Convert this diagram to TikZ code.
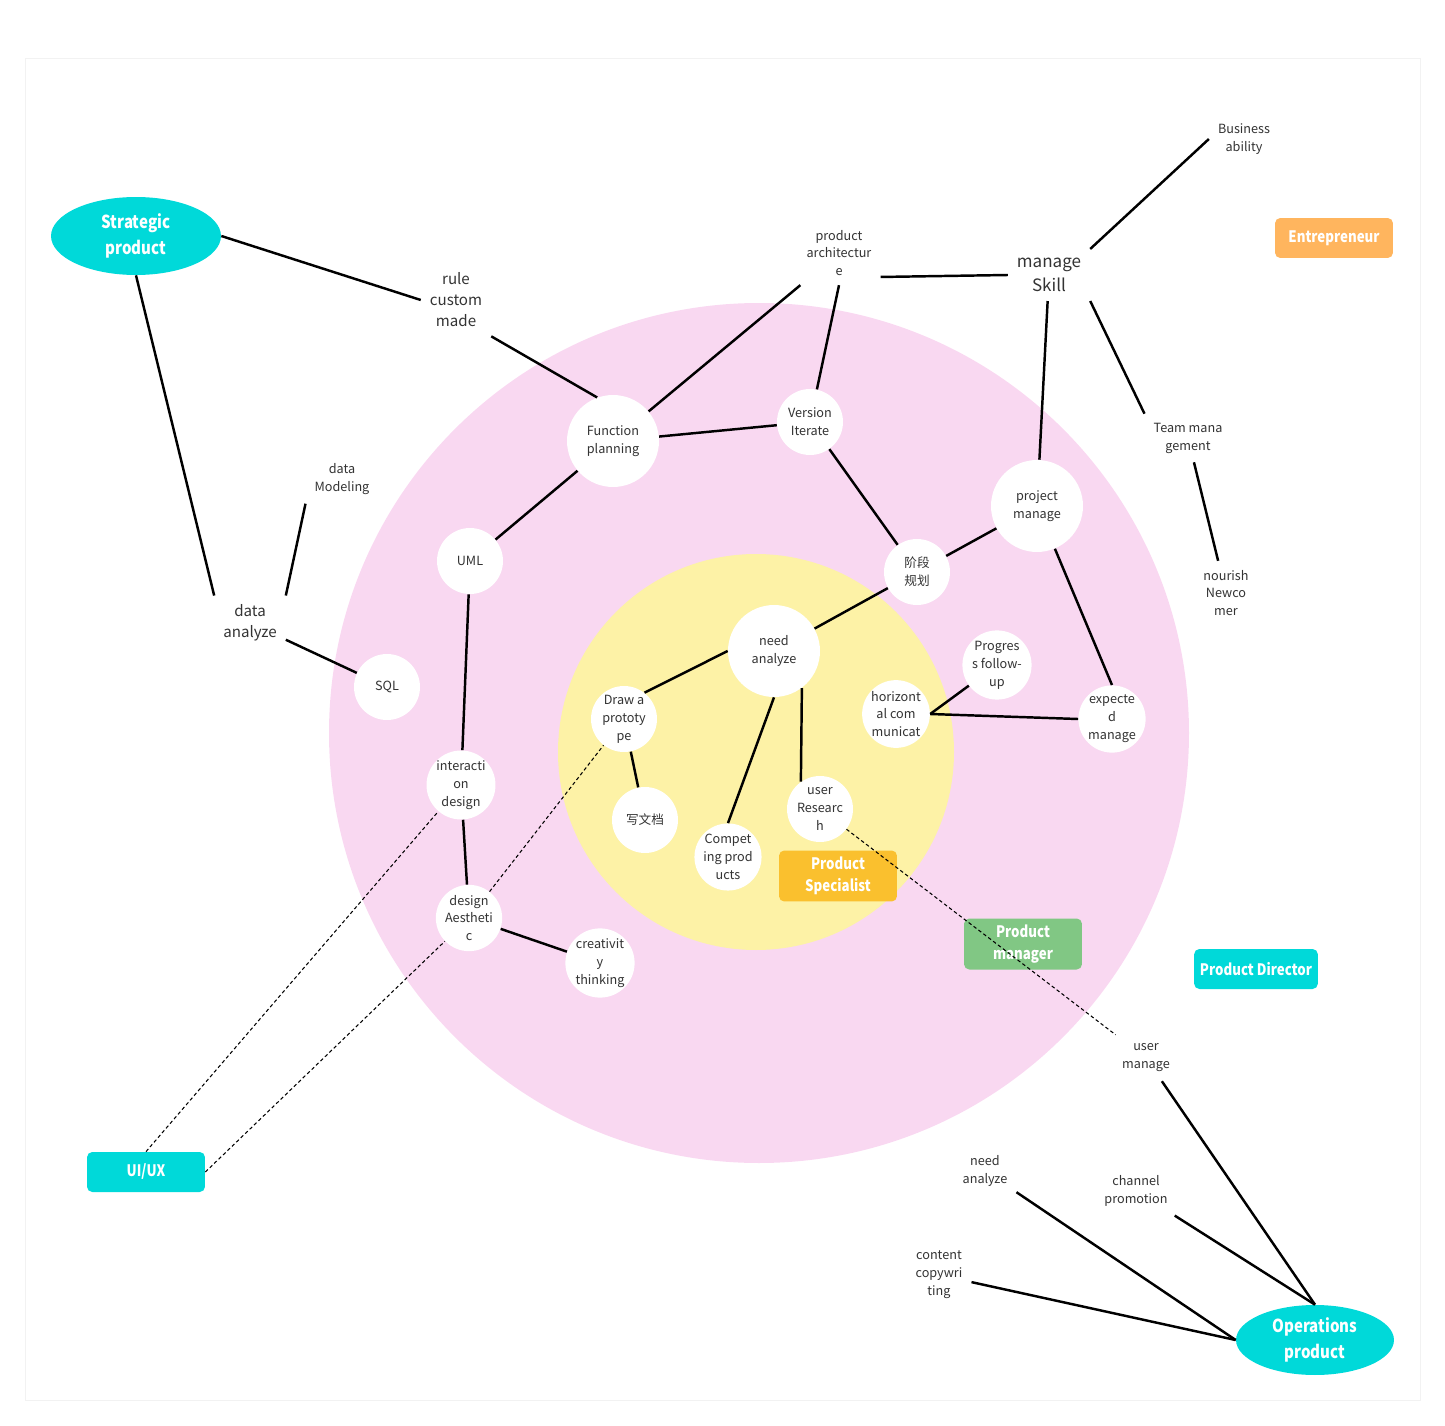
\documentclass[tikz,border=0pt]{standalone}
\usepackage{fontspec}
\setmainfont{Noto Sans CJK SC}
\newfontfamily\rolefont{Noto Sans CJK SC}[FakeStretch=0.84]
\usetikzlibrary{shapes.geometric}
\definecolor{ringpink}{RGB}{249,216,241}
\definecolor{coreyellow}{RGB}{253,242,166}
\definecolor{rcyan}{RGB}{0,217,217}
\definecolor{rorange}{RGB}{255,181,94}
\definecolor{rgold}{RGB}{250,192,46}
\definecolor{rgreen}{RGB}{129,199,132}
\definecolor{txtgray}{RGB}{51,51,51}

\begin{document}
\begin{tikzpicture}[
    x=0.02cm, y=-0.02cm,
    skill/.style={
      circle, fill=white, inner sep=0pt,
      minimum size=1.32cm,
      align=center, text=txtgray,
      font=\fontsize{7.2}{10.2}\selectfont
    },
    bigskill/.style={skill, minimum size=1.84cm},
    tag/.style={
      align=center, text=txtgray, inner sep=5pt,
      font=\fontsize{7.2}{10.2}\selectfont
    },
    midtag/.style={tag, font=\fontsize{8.6}{12}\selectfont},
    toptag/.style={tag, font=\fontsize{9.7}{13.7}\selectfont},
    role/.style={
      rectangle, rounded corners=3pt,
      fill=#1, text=white,
      minimum width=2.36cm, minimum height=0.8cm,
      align=center, font=\rolefont\bfseries\fontsize{9}{12.5}\selectfont
    },
    core/.style={
      ellipse, fill=rcyan, text=white, inner sep=0pt,
      minimum width=3.4cm, minimum height=1.56cm,
      align=center, font=\rolefont\bfseries\fontsize{10.2}{14.5}\selectfont
    },
    link/.style={line width=1.4pt, black},
    dlink/.style={line width=0.6pt, black, dash pattern=on 2pt off 1.5pt}
  ]

  \useasboundingbox (0,0) rectangle (1445,1426);
  \draw[black!5] (25,58) rectangle (1420,1400);

  % ---- Rings ----
  \fill[ringpink]   (759,733) circle[radius=430];
  \fill[coreyellow] (756,752) circle[radius=198];

  % ---- Role labels ----
  \node[core] (STRAT) at (136,236)  {Strategic\\product};
  \node[core, minimum width=3.16cm, minimum height=1.4cm] (OPS) at (1315,1340) {Operations\\product};
  \node[role=rorange] (ENTRE) at (1334,238) {Entrepreneur};
  \node[role=rgold,  minimum height=1.02cm] (SPEC) at (838,876)  {Product\\Specialist};
  \node[role=rgreen, minimum height=1.02cm] (PMAN) at (1023,944) {Product\\manager};
  \node[role=rcyan]  (DIREC) at (1256,969) {Product Director};
  \node[role=rcyan]  (UIUX)  at (146,1172) {UI/UX};

  % ---- Outer text labels ----
  \node[midtag] (RULE)  at (456,300)  {rule\\custom\\made};
  \node[tag]    (PARCH) at (839,253)  {product\\architectur\\e};
  \node[toptag] (MSKILL) at (1049,275) {manage\\Skill};
  \node[tag]    (BUSI)  at (1244,139) {Business\\ability};
  \node[tag]    (TEAM)  at (1188,438) {Team mana\\gement};
  \node[tag]    (NOUR)  at (1226,593) {nourish\\Newco\\mer};
  \node[tag]    (DMOD)  at (342,479)  {data\\Modeling};
  \node[midtag] (DANA)  at (250,623)  {data\\analyze};
  \node[tag]    (UMAN)  at (1146,1058) {user\\manage};
  \node[tag]    (NANA)  at (985,1171) {need\\analyze};
  \node[tag]    (CHAN)  at (1136,1191) {channel\\promotion};
  \node[tag]    (COPY)  at (939,1275) {content\\copywri\\ting};

  % ---- Skill circles ----
  \node[bigskill] (FUNC)  at (613,441)  {Function\\planning};
  \node[skill]    (VERS)  at (810,422)  {Version\\Iterate};
  \node[skill]    (UML)   at (470,561)  {UML};
  \node[bigskill] (PROJ)  at (1037,506) {project\\manage};
  \node[skill]    (STAGE) at (917,572)  {阶段\\规划};
  \node[bigskill] (NEED)  at (774,651)  {need\\analyze};
  \node[skill]    (PROG)  at (997,665)  {Progres\\s follow-\\up};
  \node[skill]    (HORI)  at (896,714)  {horizont\\al com\\municat};
  \node[skill]    (EXPE)  at (1112,719) {expecte\\d\\manage};
  \node[skill]    (PROTO) at (624,719)  {Draw a\\prototy\\pe};
  \node[skill]    (DOCS)  at (645,820)  {写文档};
  \node[skill]    (URES)  at (820,809)  {user\\Researc\\h};
  \node[skill]    (COMP)  at (728,857)  {Compet\\ing prod\\ucts};
  \node[skill]    (SQL)   at (387,687)  {SQL};
  \node[skill]    (INTER) at (461,785)  {interacti\\on\\design};
  \node[skill]    (DAES)  at (469,918)  {design\\Aestheti\\c};
  \node[skill]    (CREA)  at (600,963)  {creativit\\y\\thinking};

  % ---- Solid connectors ----
  \draw[link] (STRAT.east) -- (RULE.west);
  \draw[link] (STRAT.south) -- (DANA.north west);
  \draw[link] (DANA.north east) -- (DMOD.south west);
  \draw[link] (DANA) -- (SQL);
  \draw[link] (RULE.south east) -- (FUNC.110);
  \draw[link] (PARCH.south) -- (VERS);
  \draw[link] (PARCH.-30) -- (MSKILL.west);
  \draw[link] (MSKILL.north east) -- (BUSI.west);
  \draw[link] (MSKILL.south east) -- (TEAM.north west);
  \draw[link] (NEED.west) -- (PROTO.52);
  \draw[link] (NEED.south) -- (COMP.north);
  \draw[link] (NEED.-53) -- (URES.125);
  \draw[link] (PROJ) -- (EXPE.north);
  \draw[link] (HORI.east) -- (PROG);
  \draw[link] (HORI.east) -- (EXPE.west);
  \foreach \a/\b in {FUNC/PARCH, FUNC/VERS, FUNC/UML, MSKILL/PROJ, TEAM/NOUR,
                     VERS/STAGE, PROJ/STAGE, STAGE/NEED, PROTO/DOCS,
                     UML/INTER, INTER/DAES, DAES/CREA}{
    \draw[link] (\a) -- (\b);
  }
  \draw[link] (OPS.north) -- (UMAN);
  \draw[link] (OPS.north) -- (CHAN);
  \draw[link] (OPS.west) -- (NANA);
  \draw[link] (OPS.west) -- (COPY);

  % ---- Dashed connectors ----
  \draw[dlink] (UIUX.north) -- (INTER);
  \draw[dlink] (UIUX.east) -- (DAES);
  \draw[dlink] (DAES) -- (PROTO);
  \draw[dlink] (URES) -- (UMAN);

\end{tikzpicture}
\end{document}
